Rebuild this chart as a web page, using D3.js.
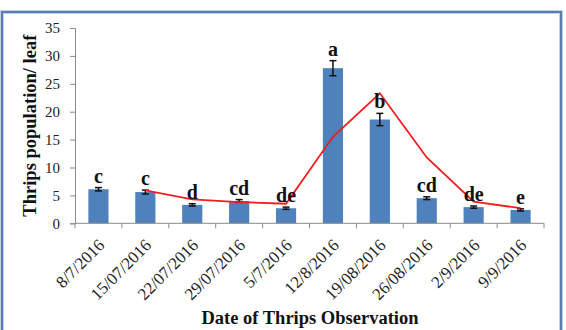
<!DOCTYPE html>
<html>
<head>
<meta charset="utf-8">
<script src="https://cdn.jsdelivr.net/npm/d3@7"></script>
<style>
  html, body { margin: 0; padding: 0; background: #fff; }
  svg { display: block; }
</style>
</head>
<body>
<svg id="chart" width="566" height="330"></svg>
<script>
// Thrips counts per leaf on each observation date
const dates = ["8/7/2016", "15/07/2016", "22/07/2016", "29/07/2016", "5/7/2016",
               "12/8/2016", "19/08/2016", "26/08/2016", "2/9/2016", "9/9/2016"];
const meanCounts = [6.1, 5.6, 3.3, 4.0, 2.7, 27.8, 18.6, 4.5, 2.9, 2.4];
const stdErrors  = [0.3, 0.35, 0.2, 0.25, 0.2, 1.35, 1.1, 0.25, 0.2, 0.2];
const groupLetters = ["c", "c", "d", "cd", "de", "a", "b", "cd", "de", "e"];
const trendLine  = [null, 5.9, 4.3, 3.8, 3.5, 15.5, 23.3, 11.8, 3.9, 2.7];
const yTicks = [0, 5, 10, 15, 20, 25, 30, 35];

const svg = d3.select("#chart");
const serif = "'Liberation Serif', 'Times New Roman', serif";

// chart frame
svg.append("path")
  .attr("d", "M2,331 V12 H561 V331")
  .attr("fill", "none").attr("stroke", "#c3d1e6").attr("stroke-width", 4);
svg.append("path")
  .attr("d", "M2,331 V12 H561 V331")
  .attr("fill", "none").attr("stroke", "#5b7cb0").attr("stroke-width", 2);

const plot = { left: 75, right: 544, top: 28, bottom: 223.3 };

const x = d3.scaleBand().domain(dates).range([plot.left, plot.right]).padding(0);
const y = d3.scaleLinear().domain([0, 35]).range([plot.bottom, plot.top]);
const barW = x.bandwidth() * 0.43;
const cx = d => x(d) + x.bandwidth() / 2;

const axisColor = "#8a8a8a";

// y axis
const yAxis = svg.append("g")
  .attr("transform", `translate(${plot.left},0)`)
  .call(d3.axisLeft(y).tickValues(yTicks).tickSize(5).tickPadding(10));
yAxis.select(".domain").attr("stroke", axisColor);
yAxis.selectAll(".tick line").attr("stroke", axisColor);
yAxis.selectAll(".tick text")
  .attr("font-family", serif).attr("font-size", 15).attr("fill", "#222");

// bars
svg.append("g").selectAll("rect").data(dates).join("rect")
  .attr("x", d => cx(d) - barW / 2)
  .attr("width", barW)
  .attr("y", (d, i) => y(meanCounts[i]))
  .attr("height", (d, i) => y(0) - y(meanCounts[i]))
  .attr("fill", "#4f81bd");

// x axis with ticks on category boundaries
const xg = svg.append("g");
xg.append("line")
  .attr("x1", plot.left).attr("x2", plot.right)
  .attr("y1", y(0)).attr("y2", y(0))
  .attr("stroke", axisColor);
const bounds = dates.map(d => x(d)).concat([x(dates[dates.length - 1]) + x.bandwidth()]);
xg.selectAll("line.tk").data(bounds).join("line").attr("class", "tk")
  .attr("x1", d => d).attr("x2", d => d)
  .attr("y1", y(0)).attr("y2", y(0) + 5)
  .attr("stroke", axisColor);
xg.selectAll("text").data(dates).join("text")
  .attr("transform", d => `translate(${cx(d) + 7},${y(0) + 23}) rotate(-45)`)
  .attr("text-anchor", "end")
  .attr("font-family", serif).attr("font-size", 17).attr("fill", "#222")
  .text(d => d);

// error bars
const eb = svg.append("g").attr("stroke", "#111").attr("stroke-width", 1.5);
dates.forEach((d, i) => {
  const hi = y(meanCounts[i] + stdErrors[i]);
  const lo = y(meanCounts[i] - stdErrors[i]);
  eb.append("line").attr("x1", cx(d)).attr("x2", cx(d)).attr("y1", hi).attr("y2", lo);
  eb.append("line").attr("x1", cx(d) - 3.5).attr("x2", cx(d) + 3.5).attr("y1", hi).attr("y2", hi);
  eb.append("line").attr("x1", cx(d) - 3.5).attr("x2", cx(d) + 3.5).attr("y1", lo).attr("y2", lo);
});

// trend line
const line = d3.line()
  .defined(d => d.v != null)
  .x(d => cx(d.k))
  .y(d => y(d.v));
svg.append("path")
  .datum(dates.map((k, i) => ({ k, v: trendLine[i] })))
  .attr("d", line)
  .attr("fill", "none")
  .attr("stroke", "#f21d1d")
  .attr("stroke-width", 1.8);

// significance letters
svg.append("g").selectAll("text").data(dates).join("text")
  .attr("x", d => cx(d))
  .attr("y", (d, i) => y(meanCounts[i] + stdErrors[i]) - 5)
  .attr("text-anchor", "middle")
  .attr("font-family", serif).attr("font-weight", "bold").attr("font-size", 20)
  .attr("fill", "#111")
  .text((d, i) => groupLetters[i]);

// axis titles
svg.append("text")
  .attr("transform", `translate(35.5,${(plot.top + plot.bottom) / 2}) rotate(-90)`)
  .attr("text-anchor", "middle")
  .attr("font-family", serif).attr("font-weight", "bold").attr("font-size", 18.5)
  .attr("fill", "#111")
  .text("Thrips population/ leaf");

svg.append("text")
  .attr("x", 310).attr("y", 324)
  .attr("text-anchor", "middle")
  .attr("font-family", serif).attr("font-weight", "bold").attr("font-size", 18.5)
  .attr("fill", "#111")
  .text("Date of Thrips Observation");
</script>
</body>
</html>
